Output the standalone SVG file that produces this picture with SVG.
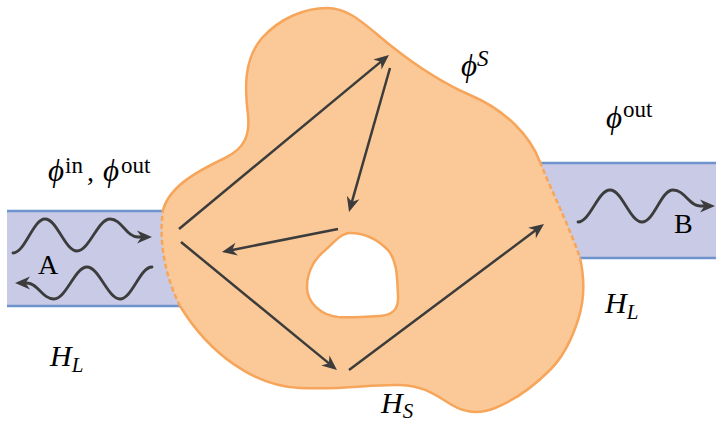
<svg xmlns="http://www.w3.org/2000/svg" width="716" height="425" viewBox="0 0 716 425">
<style>
.lead{fill:#c8cae6;stroke:none}
.leadline{stroke:#6f93cc;stroke-width:2.5;fill:none}
.blobfill{fill:#fbc997;stroke:none}
.edge{fill:none;stroke:#f6a55a;stroke-width:2.5;stroke-linejoin:round}
.dash{fill:none;stroke:#f6a55a;stroke-width:2.5;stroke-dasharray:5 3}
.arrow{fill:none;stroke:#3c3c3c;stroke-width:2.5;marker-end:url(#ah)}
.wave{fill:none;stroke:#3c3c3c;stroke-width:2.8;stroke-linecap:round;marker-end:url(#ah)}
text{font-family:"Liberation Serif","Times New Roman",serif;fill:#000}
.it{font-style:italic}
.main{font-size:28px}
.phi{font-size:31px;font-style:italic}
.sup{font-size:23px}
.hl{font-size:30px;font-style:italic}
.sub{font-size:21px;font-style:italic}
</style>
<defs>
<marker id="ah" markerUnits="userSpaceOnUse" markerWidth="18" markerHeight="16" viewBox="-16 -8 18 16" refX="-8" refY="0" orient="auto">
<path d="M0,0 L-15,-6.5 L-10.5,0 L-15,6.5 Z" fill="#3c3c3c"/>
</marker>
</defs>
<g id="leadLeft">
<rect class="lead" x="7" y="211" width="185" height="95"/>
<line class="leadline" x1="7" y1="211" x2="190" y2="211"/>
<line class="leadline" x1="7" y1="306" x2="195" y2="306"/>
</g>
<g id="leadRight">
<rect class="lead" x="525" y="163" width="191" height="95"/>
<line class="leadline" x1="525" y1="163" x2="716" y2="163"/>
<line class="leadline" x1="560" y1="258" x2="716" y2="258"/>
</g>
<g id="scatterer">
<path class="blobfill" d="M163,210 C170,185 200,170 225,158 C245,148 250,135 248,115 C245,90 243,60 262,38 C280,18 305,8 327,8 C350,8 365,25 390,45 C415,65 440,82 470,95 C505,110 530,135 540,162 C552,192 570,228 580,258 C585,280 584,302 578,320 C570,345 560,360 550,370 C535,385 515,400 495,408 C480,414 465,413 452,405 C435,395 425,386 400,385 C370,384 345,390 300,388 C255,386 210,355 180,306 C167,280 158,245 163,210 Z"/>
<path class="edge" d="M163,210 C170,185 200,170 225,158 C245,148 250,135 248,115 C245,90 243,60 262,38 C280,18 305,8 327,8 C350,8 365,25 390,45 C415,65 440,82 470,95 C505,110 530,135 540,162"/>
<path class="dash" d="M540,162 C552,192 570,228 580,258"/>
<path class="edge" d="M580,258 C585,280 584,302 578,320 C570,345 560,360 550,370 C535,385 515,400 495,408 C480,414 465,413 452,405 C435,395 425,386 400,385 C370,384 345,390 300,388 C255,386 210,355 180,306"/>
<path class="dash" d="M180,306 C167,280 158,245 163,210"/>
</g>
<g id="hole">
<path fill="#ffffff" stroke="#f6a55a" stroke-width="2.5" d="M350,233 C365,233 378,240 388,250 C398,262 397,280 398,295 C399,310 392,315 380,316 C365,317 350,318 338,317 C320,315 307,302 307,287 C307,275 312,262 322,253 C332,245 340,233 350,233 Z"/>
</g>
<g id="connectors">
<path class="arrow" d="M179,229 L382.8,60.1"/>
<path class="arrow" d="M390,68 L351.2,204.3"/>
<path class="arrow" d="M338,229 L229.8,250.4"/>
<path class="arrow" d="M181,242 L330.8,364.9"/>
<path class="arrow" d="M349,370 L537.6,228.8"/>
<path class="wave" d="M13,253 C25,253 33,219 45,219 C57,219 65,251 77,251 C89,251 98,219 110,219 C122,219 126,237 138,237 L144,237"/>
<path class="wave" d="M152,267 C140,267 132,299 120,299 C108,299 99,267 87,267 C75,267 66,299 54,299 C42,299 38,283 27,283 L23,283"/>
<path class="wave" d="M578,222 C590,222 598,190 610,190 C622,190 630,222 642,222 C654,222 661,190 673,190 C685,190 689,206 700,206 L707,206"/>
</g>
<g id="labels">
<text x="48" y="181" class="main"><tspan class="phi">ϕ</tspan><tspan class="sup" x="65" dy="-8">in</tspan><tspan x="87" dy="8">,</tspan><tspan class="phi" x="103">ϕ</tspan><tspan class="sup" x="121" dy="-8">out</tspan></text>
<text x="461" y="76" class="main"><tspan class="phi">ϕ</tspan><tspan class="sup it" x="477" dy="-10">S</tspan></text>
<text x="606" y="128" class="main"><tspan class="phi">ϕ</tspan><tspan class="sup" x="623" dy="-11">out</tspan></text>
<text x="50" y="366" class="hl">H<tspan class="sub" dy="6">L</tspan></text>
<text x="605" y="313" class="hl">H<tspan class="sub" dy="6">L</tspan></text>
<text x="381" y="413" class="hl">H<tspan class="sub" dy="5">S</tspan></text>
<text x="38" y="274" class="main">A</text>
<text x="674" y="233" class="main">B</text>
</g>
</svg>
